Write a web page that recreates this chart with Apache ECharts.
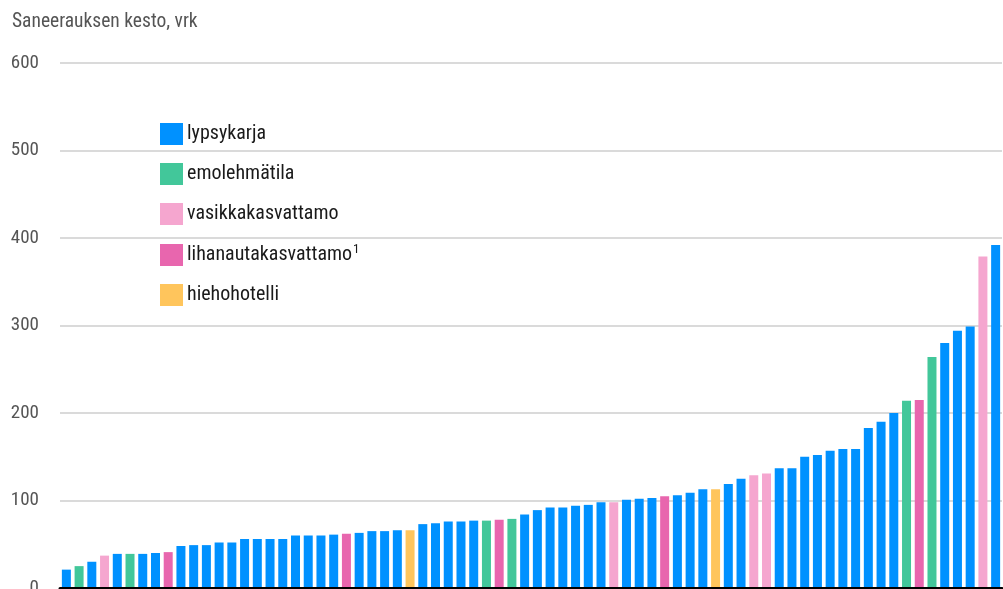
<!DOCTYPE html>
<html>
<head>
<meta charset="utf-8">
<script src="https://cdn.jsdelivr.net/npm/echarts@6/dist/echarts.min.js"></script>
<style>
  html, body { margin: 0; padding: 0; background: #fff; overflow: hidden; }
  #chart { width: 1003px; height: 589px; }
</style>
</head>
<body>
<div id="chart"></div>
<script>
// Saneerauksen kesto tiloittain (vrk), järjestetty lyhimmästä pisimpään
const farmTypes = ['lypsykarja', 'emolehmätila', 'vasikkakasvattamo', 'lihanautakasvattamo¹', 'hiehohotelli'];
const typeColors = ['#0091ff', '#42c79a', '#f5a6cf', '#e866ae', '#ffc55c'];

// Kunkin tilan tyyppi (indeksi farmTypes-listaan)
const farmType = [
  0, 1, 0, 2, 0, 1, 0, 0, 3, 0,
  0, 0, 0, 0, 0, 0, 0, 0, 0, 0,
  0, 0, 3, 0, 0, 0, 0, 4, 0, 0,
  0, 0, 0, 1, 3, 1, 0, 0, 0, 0,
  0, 0, 0, 2, 0, 0, 0, 3, 0, 0,
  0, 4, 0, 0, 2, 2, 0, 0, 0, 0,
  0, 0, 0, 0, 0, 0, 1, 3, 1, 0,
  0, 0, 2, 0
];

// Saneerauksen kesto, vrk
const duration = [
  21, 25, 30, 37, 39, 39, 39, 40, 41, 48,
  49, 49, 52, 52, 56, 56, 56, 56, 60, 60,
  60, 61, 62, 63, 65, 65, 66, 66, 73, 74,
  76, 76, 77, 77, 78, 79, 84, 89, 92, 92,
  94, 95, 98, 98, 101, 102, 103, 105, 106, 109,
  113, 113, 119, 125, 129, 131, 137, 137, 150, 152,
  157, 159, 159, 183, 190, 200, 214, 215, 264, 280,
  294, 299, 379, 392
];

const farms = duration.map((_, i) => 'Tila ' + (i + 1));
const yTicks = [0, 100, 200, 300, 400, 500, 600];

const fontFamily = '"Roboto Condensed", "Liberation Sans Narrow", "DejaVu Sans Condensed", sans-serif';

const series = farmTypes.map((name, t) => ({
  name: name,
  type: 'bar',
  stack: 'tilat',
  barWidth: 9,
  itemStyle: { color: typeColors[t] },
  data: duration.map((v, i) => (farmType[i] === t ? v : null))
}));

const chart = echarts.init(document.getElementById('chart'), null, { renderer: 'canvas' });
chart.setOption({
  animation: false,
  textStyle: { fontFamily: fontFamily },
  title: {
    text: 'Saneerauksen kesto, vrk',
    left: 12,
    top: 12,
    padding: 0,
    textStyle: { fontFamily: fontFamily, fontSize: 19.5, fontWeight: 'normal', color: '#555' }
  },
  legend: {
    orient: 'vertical',
    left: 160,
    top: 123,
    padding: 0,
    itemWidth: 23,
    itemHeight: 22,
    itemGap: 18,
    icon: 'rect',
    data: farmTypes,
    // footnote mark drawn as a raised small "1"
    formatter: (name) => name.replace('¹', '{sup|1}'),
    textStyle: {
      fontFamily: fontFamily,
      fontSize: 20,
      color: '#1a1a1a',
      padding: [0, 0, 0, -1],
      rich: {
        sup: { fontFamily: fontFamily, fontSize: 13, color: '#1a1a1a', padding: [0, 0, 11, 1] }
      }
    },
    selectedMode: false
  },
  grid: { left: 60, right: 1, top: 63, bottom: 1, outerBoundsMode: 'none', containLabel: false },
  xAxis: {
    type: 'category',
    data: farms,
    axisLine: { show: true, lineStyle: { color: '#000', width: 3 } },
    axisTick: { show: false },
    axisLabel: { show: false },
    z: 10
  },
  yAxis: {
    type: 'value',
    min: yTicks[0],
    max: yTicks[yTicks.length - 1],
    interval: 100,
    axisLine: { show: false },
    axisTick: { show: false },
    axisLabel: {
      fontFamily: fontFamily,
      fontSize: 19,
      color: '#555',
      margin: 21
    },
    splitLine: { lineStyle: { color: '#dadada', width: 2 } }
  },
  series: series
});
</script>
</body>
</html>
